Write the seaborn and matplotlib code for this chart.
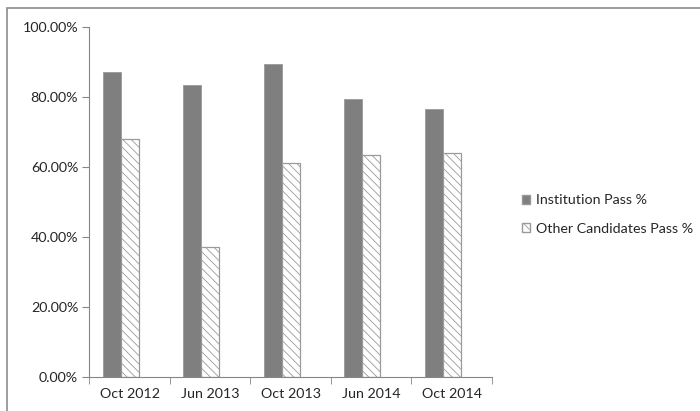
import numpy as np
import pandas as pd
import matplotlib.pyplot as plt
import seaborn as sns
from matplotlib.patches import Patch, Rectangle
from matplotlib.ticker import FuncFormatter

# values
sessions = ["Oct 2012", "Jun 2013", "Oct 2013", "Jun 2014", "Oct 2014"]
institution = [0.870, 0.833, 0.894, 0.793, 0.764]
others = [0.678, 0.370, 0.610, 0.633, 0.638]
series = ["Institution Pass %", "Other Candidates Pass %"]

data = pd.DataFrame({
    "session": sessions * 2,
    "rate": institution + others,
    "series": [series[0]] * 5 + [series[1]] * 5,
})

sns.set_style("white")
plt.rcParams["font.family"] = ["Lato", "DejaVu Sans"]
plt.rcParams["hatch.linewidth"] = 0.6

fig = plt.figure(figsize=(7, 4.11), dpi=100)
ax = fig.add_axes([0.1276, 0.0835, 0.575, 0.8515])

# third (empty) hue level keeps the Excel-style gap on the right of each group
sns.barplot(data=data, x="session", y="rate", hue="series",
            hue_order=series + ["blank"], order=sessions,
            palette={series[0]: "#7f7f7f", series[1]: "white", "blank": "white"},
            width=0.67, ax=ax, legend=False, errorbar=None)

for bar in ax.patches:
    if bar.get_facecolor()[0] > 0.9:
        bar.set_hatch("\\\\\\\\")
        bar.set_edgecolor("#9a9a9a")
        bar.set_linewidth(0.9)
    else:
        bar.set_edgecolor("#999999")
        bar.set_linewidth(0.6)

ax.set_ylim(0, 1.0)
ax.set_xlim(-0.5, 4.5)
ax.set_yticks(np.arange(0, 1.01, 0.2))
ax.yaxis.set_major_formatter(FuncFormatter(lambda v, p: f"{v * 100:.2f}%"))
ax.set_xticks(np.arange(-0.5, 5, 1), minor=True)
ax.tick_params(axis="x", which="major", length=0, pad=8, labelsize=10.3)
ax.tick_params(axis="x", which="minor", length=5, color="#868686", direction="out",
               bottom=True)
ax.tick_params(axis="y", length=5, color="#868686", direction="out", pad=3,
               labelsize=10.3, left=True)
ax.set_xlabel("")
ax.set_ylabel("")
for side in ["top", "right"]:
    ax.spines[side].set_visible(False)
for side in ["left", "bottom"]:
    ax.spines[side].set_color("#868686")
    ax.spines[side].set_linewidth(0.8)

handles = [
    Patch(facecolor="#7f7f7f", edgecolor="#999999", label=series[0]),
    Patch(facecolor="white", edgecolor="#9a9a9a", hatch="\\\\\\", label=series[1]),
]
fig.legend(handles=handles, loc="center left", bbox_to_anchor=(0.727, 0.478),
           frameon=False, fontsize=10.3, handlelength=0.6, handleheight=0.6,
           handletextpad=0.4, labelspacing=1.15)

# chart-area border as in the source image
fig.add_artist(Rectangle((0.01, -0.1), 1.1, 1.0805, transform=fig.transFigure,
                         fill=False, edgecolor="#8c8c8c", linewidth=1.2))

fig.savefig("out.png", dpi=100)
